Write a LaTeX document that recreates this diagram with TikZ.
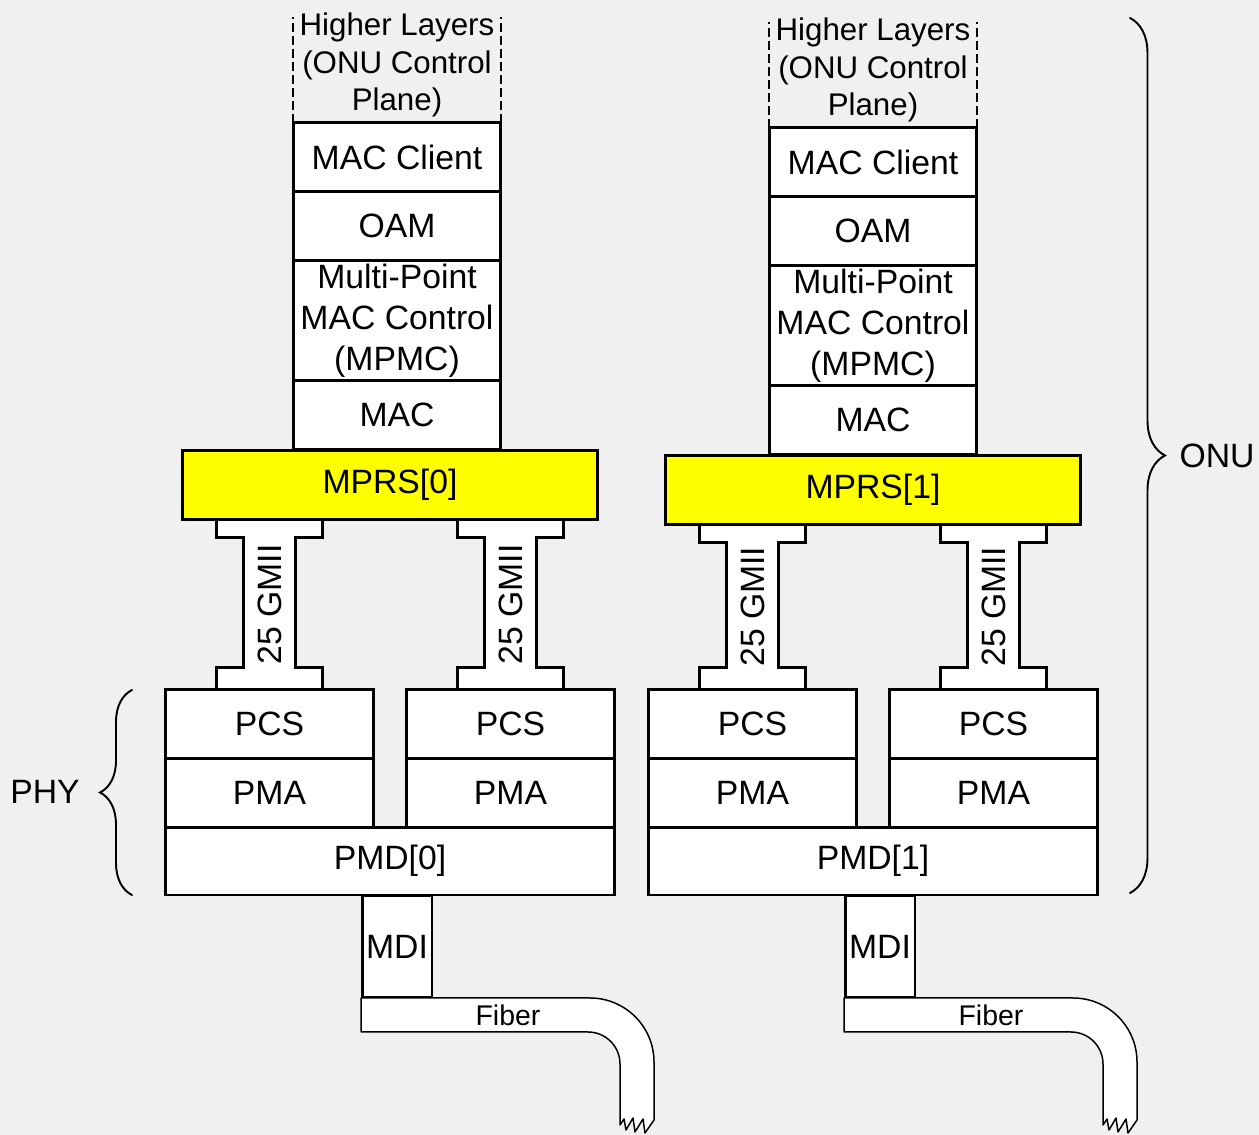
\documentclass[tikz,border=0pt]{standalone}
\usepackage{fontspec}
\setmainfont{Liberation Sans}
\usetikzlibrary{
  arrows.meta,
  calc,
  positioning,
  decorations.pathreplacing
}
\definecolor{bgcol}{HTML}{F0F0F0}
\definecolor{mprsyellow}{HTML}{FFFF00}
\tikzset{
  line join=miter,
  layer/.style={draw, fill=white, line width=1.7pt, inner sep=0pt, outer sep=0pt, align=center,
    minimum width=4.16cm, minimum height=1.38cm, font=\fontsize{19.2}{23.2}\selectfont},
  tall/.style={minimum height=2.4cm},
  wide/.style={minimum width=8.98cm, minimum height=1.36cm},
  mprsbox/.style={layer, fill=mprsyellow, minimum width=8.3cm},
  mdibox/.style={layer, minimum width=1.4cm, minimum height=2.06cm},
  hltext/.style={align=center, inner sep=0pt, font=\fontsize{17.8}{21.5}\selectfont},
  hlline/.style={dash pattern=on 4.8pt off 2.6pt, line width=1pt},
  gmii/.style={draw, fill=white, line width=1.7pt},
  gmiitext/.style={rotate=90, inner sep=0pt, font=\fontsize{19.2}{23.2}\selectfont},
  fiber/.style={draw, fill=white, line width=0.85pt, line join=round},
  fibertext/.style={inner sep=0pt, font=\fontsize{16.2}{19}\selectfont},
  bracket/.style={decorate, decoration={brace, amplitude=#1}, line width=1.1pt, line cap=round},
  sidelabel/.style={inner sep=0pt, font=\fontsize{19.2}{23.2}\selectfont}
}

\begin{document}
\begin{tikzpicture}[x=0.02cm, y=-0.02cm]
  \fill[bgcol] (0,0) rectangle (1259,1135);
  \useasboundingbox (0,0) rectangle (1259,1135);

  \foreach \i/\xc/\xs/\dy in {0/390/397/0, 1/873/873/5} {
    \node[mprsbox] (mprs\i) at (\xc,485+\dy) {MPRS[\i]};
    \node[layer] (mac\i) at (\xs,415+\dy) {MAC};
    \node[layer, tall, above=0pt of mac\i] (mpmc\i) {Multi-Point\\MAC Control\\(MPMC)};
    \node[layer, above=0pt of mpmc\i] (oam\i) {OAM};
    \node[layer, above=0pt of oam\i] (macc\i) {MAC Client};
    \node[hltext, above=2.8pt of macc\i] (hl\i) {Higher Layers\\(ONU Control\\Plane)};
    \draw[hlline] (macc\i.north west) -- ++(0,-106);
    \draw[hlline] (macc\i.north east) -- ++(0,-106);

    \node[layer, wide] (pmd\i) at (\xc,861) {PMD[\i]};
    \foreach \j in {0,1} {
      \pgfmathsetmacro{\px}{\xc+(2*\j-1)*120.5}
      \node[layer] (pma\i\j) at (\px,792.5) {PMA};
      \node[layer] (pcs\i\j) at (\px,723.5) {PCS};
      \draw[gmii] ($(pcs\i\j.north)+(-53,0)$) -- ++(0,-22) -- ++(27,0)
        -- ($(pcs\i\j.north |- mprs\i.south)+(-26,18)$) -- ++(-27,0) -- ++(0,-18)
        -- ++(106,0) -- ++(0,18) -- ++(-27,0)
        -- ($(pcs\i\j.north)+(26,-22)$) -- ++(27,0) -- ++(0,22) -- cycle;
      \node[gmiitext] (gm\i\j) at ($(pcs\i\j.north |- mprs\i.south)!0.5!(pcs\i\j.north)$) {25 GMII};
    }

    \node[mdibox] (mdi\i) at (\xc+7,946.5) {MDI};
    \coordinate (fb\i) at ($(mdi\i.south west)+(-1,0)$);
    \begin{scope}[shift={(fb\i)}]
      \draw[fiber] (0,0) -- (229,0) .. controls (264.3,0) and (293,28.7) .. (293,64)
        -- (293,122) -- (284,135) -- (282,121) -- (274,134) -- (272,120) -- (265,132)
        -- (263,121) -- (259,127) -- (259,66)
        .. controls (259,48.3) and (244.7,34) .. (227,34) -- (0,34) -- cycle;
      \node[fibertext] (fibtxt\i) at (147,17) {Fiber};
    \end{scope}
  }

  \draw[bracket=0.64cm] (132,895) -- (132,690);
  \node[sidelabel] (phy) at (45,792) {PHY};
  \draw[bracket=0.7cm] (1130,18) -- (1130,893);
  \node[sidelabel] (onu) at (1217,456) {ONU};
\end{tikzpicture}
\end{document}
